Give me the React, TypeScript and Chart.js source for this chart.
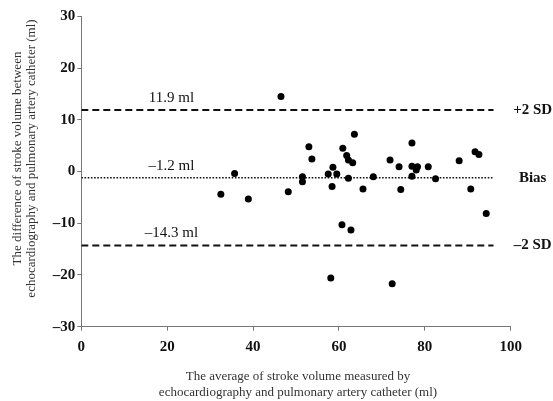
import React, { useEffect, useRef } from "react";
import { Chart, registerables } from "chart.js";

Chart.register(...registerables);

// Average of stroke volume (ml) for each patient
const avgValues = [
  32.5, 35.7, 38.9, 46.5, 48.2, 51.5, 51.5, 53.0, 53.7, 57.5,
  58.1, 58.4, 58.6, 59.5, 60.7, 60.9, 61.8, 62.2, 62.2, 62.8,
  63.2, 63.6, 65.6, 68.0, 71.9, 72.4, 74.0, 74.4, 77.0, 77.0,
  77.0, 78.0, 78.3, 80.8, 82.5, 88.0, 90.7, 91.7, 92.6, 94.3,
];
// Difference of stroke volume (ml) for each patient
const diffValues = [
  -4.4, -0.4, -5.3, 14.5, -3.9, -1.0, -2.0, 4.8, 2.4, -0.5,
  -20.6, -2.9, 0.8, -0.5, -10.3, 4.5, 3.1, 2.2, -1.3, -11.3,
  1.7, 7.2, -3.4, -1.0, 2.2, -21.7, 0.9, -3.5, 5.5, 1.0,
  -0.9, 0.3, 0.9, 0.9, -1.4, 2.1, -3.4, 3.8, 3.3, -8.1,
];

// Reference lines: +2 SD, bias, -2 SD
const lineNames = ["+2 SD", "Bias", "\u20132 SD"];
const lineValues = [11.9, -1.2, -14.3];
const lineTexts = ["11.9 ml", "\u20131.2 ml", "\u201314.3 ml"];
const lineDotted = [false, true, false];
const lineXRange = [0, 96];
const lineTextX = 21;

const xTicks = { min: 0, max: 100, step: 20 };
const yTicks = { min: -30, max: 30, step: 10 };

const xTitle = [
  "The average of stroke volume measured by",
  "echocardiography and pulmonary artery catheter (ml)",
];
const yTitle = [
  "The difference of stroke volume between",
  "echocardiography and pulmonary artery catheter (ml)",
];

const FONT = "'Liberation Serif', 'Times New Roman', serif";

const annotationPlugin = {
  id: "annot",
  afterDatasetsDraw(chart: any) {
    const { ctx, chartArea, scales } = chart;
    const xs = scales.x;
    const ys = scales.y;
    ctx.save();
    // line value labels
    ctx.fillStyle = "#111";
    ctx.font = `15px ${FONT}`;
    ctx.textAlign = "center";
    ctx.textBaseline = "alphabetic";
    lineValues.forEach((v, i) => {
      const y = ys.getPixelForValue(v);
      ctx.fillText(lineTexts[i], xs.getPixelForValue(lineTextX), y - 8);
    });
    // right side names
    ctx.font = `bold 15px ${FONT}`;
    ctx.textBaseline = "middle";
    lineValues.forEach((v, i) => {
      const y = ys.getPixelForValue(v);
      ctx.fillText(lineNames[i], chartArea.right + 22, y);
    });
    // axis titles
    ctx.fillStyle = "#333";
    ctx.font = `13px ${FONT}`;
    ctx.textAlign = "center";
    ctx.textBaseline = "middle";
    const cx = (chartArea.left + chartArea.right) / 2 + 2;
    xTitle.forEach((t, i) => {
      ctx.fillText(t, cx, chartArea.bottom + 50 + i * 16);
    });
    yTitle.forEach((t, i) => {
      ctx.save();
      ctx.translate(18 + i * 14, (chartArea.top + chartArea.bottom) / 2 - 13);
      ctx.rotate(-Math.PI / 2);
      ctx.fillText(t, 0, 0);
      ctx.restore();
    });
    ctx.restore();
  },
};

export default function App() {
  const canvasRef = useRef<HTMLCanvasElement | null>(null);

  useEffect(() => {
    document.body.style.margin = "0";
    const canvas = canvasRef.current;
    if (!canvas) return;

    const lineDatasets = lineValues.map((v, i) => ({
      type: "line" as const,
      data: lineXRange.map((x) => ({ x, y: v })),
      borderColor: "#111",
      borderWidth: lineDotted[i] ? 1.6 : 2,
      borderDash: lineDotted[i] ? [1.6, 1.6] : [7, 4],
      pointRadius: 0,
      fill: false,
      order: 2,
    }));

    const chart = new Chart(canvas, {
      type: "scatter",
      data: {
        datasets: [
          {
            type: "scatter" as const,
            data: avgValues.map((x, i) => ({ x, y: diffValues[i] })),
            backgroundColor: "#000",
            borderColor: "#000",
            pointRadius: 3.5,
            pointBorderWidth: 0,
            order: 1,
          },
          ...lineDatasets,
        ],
      },
      options: {
        responsive: false,
        animation: false,
        layout: { padding: { left: 0, right: 42.3, top: 16.3, bottom: 0 } },
        plugins: {
          legend: { display: false },
          tooltip: { enabled: false },
        },
        scales: {
          x: {
            type: "linear",
            min: xTicks.min,
            max: xTicks.max,
            ticks: {
              stepSize: xTicks.step,
              color: "#111",
              font: { family: FONT, size: 15, weight: "bold" },
              padding: 7,
              maxRotation: 0,
            },
            grid: {
              drawOnChartArea: false,
              drawTicks: true,
              tickLength: 4,
              color: "#777",
            },
            border: { color: "#777", width: 1 },
            afterFit: (scale: any) => {
              scale.height = 74.3;
            },
          },
          y: {
            type: "linear",
            min: yTicks.min,
            max: yTicks.max,
            ticks: {
              stepSize: yTicks.step,
              color: "#111",
              font: { family: FONT, size: 15, weight: "bold" },
              padding: 2,
              callback: (v: any) => String(v).replace("-", "\u2013"),
            },
            grid: {
              drawOnChartArea: false,
              drawTicks: true,
              tickLength: 4,
              color: "#777",
            },
            border: { color: "#777", width: 1 },
            afterFit: (scale: any) => {
              scale.width = 81.3;
            },
          },
        },
      },
      plugins: [annotationPlugin],
    } as any);

    return () => chart.destroy();
  }, []);

  return (
    <div style={{ width: 553, height: 401, background: "#fff" }}>
      <canvas ref={canvasRef} width={553} height={401} />
    </div>
  );
}
